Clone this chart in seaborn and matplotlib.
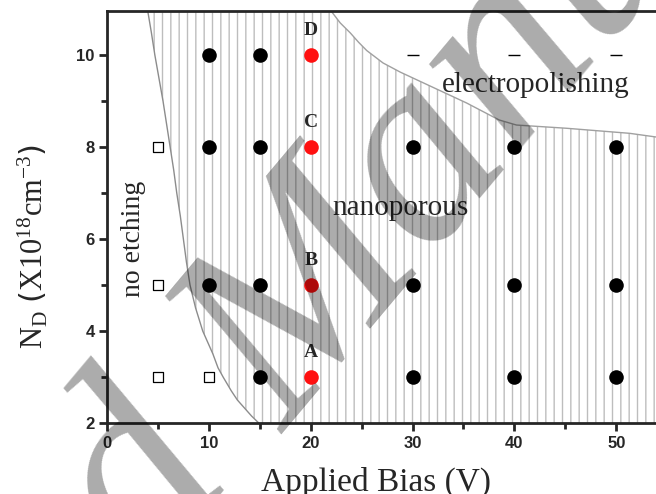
import numpy as np
import pandas as pd
import seaborn as sns
import matplotlib.pyplot as plt

# measured points (Applied Bias in V, N_D in 1e18 cm^-3)
no_etch_x = [5, 5, 5, 10]
no_etch_y = [8, 5, 3, 3]

porous_x = [10, 15, 10, 15, 30, 40, 50, 10, 15, 30, 40, 50, 15, 30, 40, 50]
porous_y = [10, 10, 8, 8, 8, 8, 8, 5, 5, 5, 5, 5, 3, 3, 3, 3]

sample_x = [20, 20, 20, 20]
sample_y = [10, 8, 5, 3]
sample_labels = ['D', 'C', 'B', 'A']

polish_x = [30, 40, 50]
polish_y = [10, 10, 10]

# region boundaries
left_bx = [4.0, 4.35, 4.7, 5.1, 5.5, 5.85, 6.2, 6.55, 6.85, 7.2, 7.5, 7.8, 8.15,
           8.7, 9.4, 10.4, 10.9, 11.4, 12.2, 12.8, 13.6, 14.2, 14.9]
left_by = [10.96, 10.5, 10.0, 9.5, 9.0, 8.5, 8.0, 7.5, 7.0, 6.5, 6.0, 5.5, 5.0,
           4.5, 4.0, 3.5, 3.2, 3.0, 2.7, 2.5, 2.3, 2.15, 2.0]
top_bx = [22.0, 22.9, 23.9, 24.7, 25.5, 27.1, 28.8, 32.0, 35.3, 38.5, 40.2, 45.1, 51.3, 53.9]
top_by = [10.96, 10.7, 10.48, 10.28, 10.1, 9.83, 9.63, 9.3, 8.96, 8.59, 8.48, 8.41, 8.30, 8.22]

xmax, ymin, ymax = 53.9, 2.0, 10.96

sns.set_style('ticks')
plt.rcParams['font.family'] = ['Liberation Sans', 'DejaVu Sans']

fig = plt.figure(figsize=(6.56, 4.94), dpi=100)
ax = fig.add_axes([107 / 656, 71 / 494, 1 - 107 / 656, 412 / 494])

# hatched nanoporous region
poly_x = left_bx + [xmax, xmax] + top_bx[::-1]
poly_y = left_by + [ymin, top_by[-1]] + top_by[::-1]
ax.fill(poly_x, poly_y, facecolor='none', edgecolor='#bdbdbd', hatch='||', linewidth=0, zorder=1)
ax.plot(left_bx, left_by, color='#8c8c8c', lw=1, zorder=2)
ax.plot(top_bx, top_by, color='#a0a0a0', lw=1, zorder=2)

sns.scatterplot(x=porous_x, y=porous_y, color='black', s=110, marker='o', linewidth=0, ax=ax, zorder=3)
sns.scatterplot(x=sample_x, y=sample_y, color='#ff1010', s=110, marker='o', linewidth=0, ax=ax, zorder=3)
sns.scatterplot(x=no_etch_x, y=no_etch_y, marker='s', s=60, facecolor='white', edgecolor='black',
                linewidth=0.9, ax=ax, zorder=3)
sns.scatterplot(x=polish_x, y=polish_y, marker='_', s=80, color='black', linewidth=1.0, ax=ax, zorder=3)

for x, y, t in zip(sample_x, sample_y, sample_labels):
    ax.text(x, y + 0.35, t, ha='center', va='bottom', fontsize=14, fontweight='bold',
            family='Liberation Serif')

ax.text(2.6, 6.0, 'no etching', rotation=90, ha='center', va='center', fontsize=20,
        family='Liberation Serif')
ax.text(28.8, 6.68, 'nanoporous', ha='center', va='center', fontsize=21, family='Liberation Serif')
ax.text(42.1, 9.36, 'electropolishing', ha='center', va='center', fontsize=21,
        family='Liberation Serif')

ax.set_xlim(0, xmax)
ax.set_ylim(ymin, ymax)
ax.set_xticks([0, 10, 20, 30, 40, 50])
ax.set_xticks([5, 15, 25, 35, 45], minor=True)
ax.set_yticks([2, 4, 6, 8, 10])
ax.set_yticks([3, 5, 7, 9], minor=True)
ax.tick_params(which='major', direction='out', length=6, width=2, labelsize=12, pad=3)
ax.tick_params(which='minor', direction='out', length=4, width=2)
for lab in ax.get_xticklabels() + ax.get_yticklabels():
    lab.set_fontweight('bold')
for side in ['left', 'bottom', 'top']:
    ax.spines[side].set_linewidth(2)
ax.spines['right'].set_visible(False)
ax.spines['top'].set_visible(True)

ax.set_xlabel('Applied Bias (V)', fontsize=24, family='Liberation Serif')
ax.xaxis.set_label_coords(0.49, -(467 - 423) / 412, transform=ax.transAxes)
ax.xaxis.label.set_va('top')
ax.set_ylabel(r'N$_\mathregular{D}$ $\left(\mathregular{X10^{18}cm^{-3}}\right)$', fontsize=22,
              family='Liberation Serif')
ax.yaxis.set_label_coords(-(107 - 50) / 549, (423 - 246) / 412)

# faint watermark across the page
wm = dict(fontsize=195, family='Liberation Serif', style='italic', color='black', alpha=0.33,
          rotation=50, rotation_mode='anchor', va='baseline', zorder=10)
fig.text(285 / 656, 1 - 435 / 494, 'Manuscript', ha='left', **wm)
fig.text(285 / 656, 1 - 435 / 494, 'Accepted ', ha='right', **wm)

fig.savefig('out.png', dpi=100)
